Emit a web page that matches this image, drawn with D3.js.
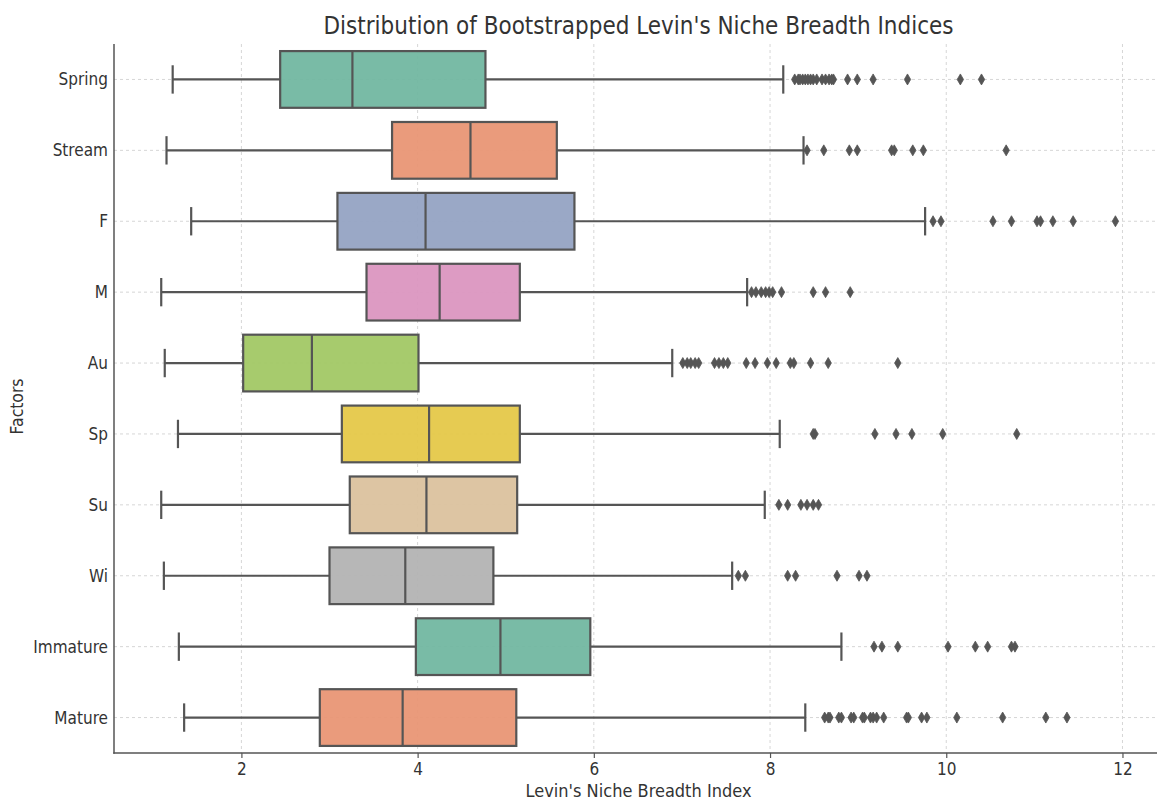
<!DOCTYPE html>
<html>
<head>
<meta charset="utf-8">
<script src="https://cdn.jsdelivr.net/npm/d3@7"></script>
<style>
  html, body { margin: 0; padding: 0; background: #ffffff; }
  svg { display: block; font-family: "DejaVu Sans", sans-serif; }
</style>
</head>
<body>
<svg id="chart" width="1157" height="803"></svg>
<script>
// ---------------- data ----------------
const categories = ["Spring", "Stream", "F", "M", "Au", "Sp", "Su", "Wi", "Immature", "Mature"];
const whiskerLow  = [1.22, 1.15, 1.43, 1.09, 1.13, 1.28, 1.09, 1.12, 1.29, 1.35];
const q1Values    = [2.44, 3.71, 3.09, 3.42, 2.02, 3.14, 3.23, 3.00, 3.98, 2.89];
const medians     = [3.26, 4.60, 4.09, 4.25, 2.80, 4.13, 4.10, 3.86, 4.94, 3.83];
const q3Values    = [4.77, 5.58, 5.78, 5.16, 4.01, 5.16, 5.13, 4.86, 5.96, 5.12];
const whiskerHigh = [8.15, 8.38, 9.76, 7.74, 6.89, 8.11, 7.94, 7.57, 8.81, 8.40];
const outliers = [
  [8.28, 8.32, 8.34, 8.37, 8.40, 8.43, 8.46, 8.49, 8.53, 8.59, 8.63, 8.67, 8.70, 8.72, 8.88, 8.99, 9.17, 9.56, 10.16, 10.40],
  [8.42, 8.61, 8.90, 8.99, 9.38, 9.41, 9.62, 9.74, 10.68],
  [9.85, 9.94, 10.53, 10.74, 11.03, 11.07, 11.21, 11.44, 11.92],
  [7.79, 7.84, 7.90, 7.95, 7.99, 8.03, 8.13, 8.49, 8.63, 8.91],
  [7.01, 7.06, 7.10, 7.15, 7.19, 7.37, 7.42, 7.47, 7.52, 7.73, 7.83, 7.97, 8.07, 8.23, 8.27, 8.46, 8.66, 9.45],
  [8.49, 8.51, 9.19, 9.43, 9.61, 9.96, 10.80],
  [8.10, 8.20, 8.35, 8.42, 8.49, 8.55],
  [7.64, 7.72, 8.20, 8.29, 8.76, 9.01, 9.10],
  [9.18, 9.27, 9.45, 10.02, 10.33, 10.47, 10.74, 10.78],
  [8.62, 8.66, 8.68, 8.78, 8.81, 8.92, 8.95, 9.05, 9.07, 9.14, 9.17, 9.21, 9.29, 9.55, 9.57, 9.72, 9.78, 10.12, 10.64, 11.13, 11.37]
];
const boxColors = ["#72b7a1", "#e99675", "#95a3c3", "#db96c0", "#a2c865", "#e5c849", "#dbc29e", "#b3b3b3", "#72b7a1", "#e99675"];
const xTicks = [2, 4, 6, 8, 10, 12];
const xDomain = [0.554, 12.46];
const titleText = "Distribution of Bootstrapped Levin's Niche Breadth Indices";
const xLabelText = "Levin's Niche Breadth Index";
const yLabelText = "Factors";

// ---------------- layout ----------------
const svg = d3.select("#chart");
const plot = { left: 114, right: 1163, top: 44, bottom: 753 };
const lineColor = "#555555";
const textColor = "#333333";

const x = d3.scaleLinear().domain(xDomain).range([plot.left, plot.right]);
const y = d3.scalePoint().domain(categories).range([plot.top, plot.bottom]).padding(0.5);
const boxH = y.step() * 0.8;

svg.append("defs").append("clipPath").attr("id", "clip")
  .append("rect").attr("x", plot.left).attr("y", plot.top)
  .attr("width", plot.right - plot.left).attr("height", plot.bottom - plot.top);

// grid
const grid = svg.append("g").attr("clip-path", "url(#clip)");
grid.selectAll(".vg").data(xTicks).enter().append("line")
  .attr("x1", d => x(d)).attr("x2", d => x(d))
  .attr("y1", plot.top).attr("y2", plot.bottom)
  .attr("stroke", "#d6d6d6").attr("stroke-width", 1).attr("stroke-dasharray", "3,3");
grid.selectAll(".hg").data(categories).enter().append("line")
  .attr("x1", plot.left).attr("x2", plot.right)
  .attr("y1", d => y(d)).attr("y2", d => y(d))
  .attr("stroke", "#d6d6d6").attr("stroke-width", 1).attr("stroke-dasharray", "3,3");

// boxes
const g = svg.append("g").attr("clip-path", "url(#clip)");
categories.forEach((c, i) => {
  const cy = y(c);
  const row = g.append("g");
  row.append("line").attr("x1", x(whiskerLow[i])).attr("x2", x(q1Values[i]))
    .attr("y1", cy).attr("y2", cy).attr("stroke", lineColor).attr("stroke-width", 2.2);
  row.append("line").attr("x1", x(q3Values[i])).attr("x2", x(whiskerHigh[i]))
    .attr("y1", cy).attr("y2", cy).attr("stroke", lineColor).attr("stroke-width", 2.2);
  [whiskerLow[i], whiskerHigh[i]].forEach(v => {
    row.append("line").attr("x1", x(v)).attr("x2", x(v))
      .attr("y1", cy - boxH / 4).attr("y2", cy + boxH / 4)
      .attr("stroke", lineColor).attr("stroke-width", 2.2);
  });
  row.append("rect")
    .attr("x", x(q1Values[i])).attr("y", cy - boxH / 2)
    .attr("width", x(q3Values[i]) - x(q1Values[i])).attr("height", boxH)
    .attr("fill", boxColors[i]).attr("fill-opacity", 0.95)
    .attr("stroke", lineColor).attr("stroke-width", 2.2);
  row.append("line").attr("x1", x(medians[i])).attr("x2", x(medians[i]))
    .attr("y1", cy - boxH / 2).attr("y2", cy + boxH / 2)
    .attr("stroke", lineColor).attr("stroke-width", 2.2);
  row.selectAll(".o").data(outliers[i]).enter().append("path")
    .attr("d", d => {
      const px = x(d);
      return `M${px},${cy - 5.5}L${px + 3.2},${cy}L${px},${cy + 5.5}L${px - 3.2},${cy}Z`;
    })
    .attr("fill", lineColor).attr("stroke", lineColor).attr("stroke-width", 0.8);
});

// axes
const xAxis = svg.append("g").attr("transform", `translate(0,${plot.bottom})`)
  .call(d3.axisBottom(x).tickValues(xTicks).tickSize(5).tickPadding(5).tickFormat(d3.format("d")));
xAxis.select(".domain").remove();
xAxis.selectAll(".tick line").attr("stroke", lineColor).attr("stroke-width", 1.2);
xAxis.selectAll("text").attr("fill", textColor).attr("font-size", 17)
  .attr("font-family", "DejaVu Sans, sans-serif");

const yAxis = svg.append("g").attr("transform", `translate(${plot.left},0)`)
  .call(d3.axisLeft(y).tickSize(0).tickPadding(6));
yAxis.select(".domain").remove();
yAxis.selectAll("text").attr("fill", textColor).attr("font-size", 17)
  .attr("font-family", "DejaVu Sans, sans-serif");

// spines
svg.append("line").attr("x1", plot.left).attr("x2", plot.left)
  .attr("y1", plot.top).attr("y2", plot.bottom + 0.75)
  .attr("stroke", lineColor).attr("stroke-width", 1.5);
svg.append("line").attr("x1", plot.left - 0.75).attr("x2", plot.right)
  .attr("y1", plot.bottom).attr("y2", plot.bottom)
  .attr("stroke", lineColor).attr("stroke-width", 1.5);

// labels
svg.append("text").attr("class", "title")
  .attr("x", (plot.left + plot.right) / 2).attr("y", 34)
  .attr("text-anchor", "middle").attr("font-size", 24).attr("fill", textColor)
  .attr("textLength", 630).attr("lengthAdjust", "spacingAndGlyphs")
  .text(titleText);
svg.append("text").attr("class", "xlabel")
  .attr("x", (plot.left + plot.right) / 2).attr("y", 797)
  .attr("text-anchor", "middle").attr("font-size", 17).attr("fill", textColor)
  .attr("textLength", 226).attr("lengthAdjust", "spacingAndGlyphs")
  .text(xLabelText);
svg.append("text").attr("class", "ylabel")
  .attr("transform", `translate(23,${(plot.top + plot.bottom) / 2 + 8}) rotate(-90)`)
  .attr("text-anchor", "middle").attr("font-size", 17).attr("fill", textColor)
  .attr("textLength", 56).attr("lengthAdjust", "spacingAndGlyphs")
  .text(yLabelText);

function condense(sel, factor) {
  sel.each(function () {
    const len = this.getComputedTextLength();
    d3.select(this).attr("textLength", len * factor).attr("lengthAdjust", "spacingAndGlyphs");
  });
}
condense(svg.selectAll(".tick text"), 0.9);
</script>
</body>
</html>
